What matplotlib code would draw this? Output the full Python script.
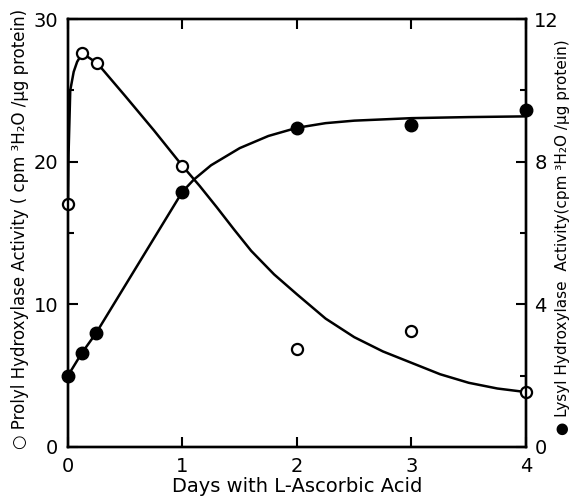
import numpy as np
import matplotlib.pyplot as plt
from matplotlib.ticker import MultipleLocator

# measured points
prolyl_days = [0, 0.125, 0.256, 1, 2, 3, 4]
prolyl = [17.0, 27.6, 26.9, 19.7, 6.9, 8.15, 3.85]
lysyl_days = [0, 0.12, 0.245, 1, 2, 3, 4]
lysyl = [2.0, 2.63, 3.19, 7.16, 8.95, 9.03, 9.45]

# hand-drawn fit curves
prolyl_fit_x = [0, 0.005, 0.02, 0.05, 0.08, 0.125, 0.256, 0.5, 0.75, 1.0, 1.15, 1.3,
                1.45, 1.6, 1.8, 2.0, 2.25, 2.5, 2.75, 3.0, 3.25, 3.5, 3.75, 4.0]
prolyl_fit_y = [17, 20.5, 25, 26.3, 27.0, 27.6, 26.9, 24.6, 22.2, 19.7, 18.3, 16.8,
                15.25, 13.75, 12.1, 10.7, 9.0, 7.7, 6.7, 5.9, 5.1, 4.5, 4.1, 3.85]
lysyl_fit_x = [0, 0.12, 0.245, 1.0, 1.1, 1.25, 1.5, 1.75, 2.0, 2.25, 2.5, 3.0, 3.5, 4.0]
lysyl_fit_y = [2.0, 2.63, 3.19, 7.16, 7.5, 7.9, 8.38, 8.72, 8.95, 9.08, 9.15, 9.22, 9.25, 9.27]

plt.rcParams['font.family'] = ['DejaVu Sans']
fig = plt.figure(figsize=(5.77, 5.04), dpi=100)
ax = fig.add_axes([0.1178, 0.1131, 0.7938, 0.8492])
ax2 = ax.twinx()

ax.plot(prolyl_fit_x, prolyl_fit_y, color='black', lw=1.8, zorder=2)
ax.plot(prolyl_days, prolyl, 'o', ms=8, mfc='white', mec='black', mew=1.6, zorder=5, clip_on=False)
ax2.plot(lysyl_fit_x, lysyl_fit_y, color='black', lw=1.8, zorder=2)
ax2.plot(lysyl_days, lysyl, 'o', ms=9, mfc='black', mec='black', zorder=5, clip_on=False)

ax.set_xlim(0, 4)
ax.set_ylim(0, 30)
ax2.set_ylim(0, 12)

ax.set_xticks([0, 1, 2, 3, 4])
ax.yaxis.set_major_locator(MultipleLocator(10))
ax.yaxis.set_minor_locator(MultipleLocator(5))
ax2.yaxis.set_major_locator(MultipleLocator(4))
ax2.yaxis.set_minor_locator(MultipleLocator(2))

for a in (ax, ax2):
    for s in a.spines.values():
        s.set_linewidth(1.7)
    a.tick_params(which='major', direction='in', length=7, width=1.5, labelsize=14, pad=7)
    a.tick_params(which='minor', direction='in', length=4, width=1.5)
ax.tick_params(axis='x', top=True)
ax2.tick_params(axis='y', pad=6)

ax.set_xlabel('Days with L-Ascorbic Acid', fontsize=14, labelpad=1)
ax.set_ylabel('○ Prolyl Hydroxylase Activity ( cpm ³H₂O /µg protein)', fontsize=12,
              va='center')
ax.yaxis.set_label_coords(-0.105, 0.51)
ax2.set_ylabel('● Lysyl Hydroxylase  Activity(cpm ³H₂O /µg protein)', fontsize=11,
               rotation=90, va='center')
ax2.yaxis.set_label_coords(1.08, 0.49)

fig.savefig('out.png', dpi=100)
